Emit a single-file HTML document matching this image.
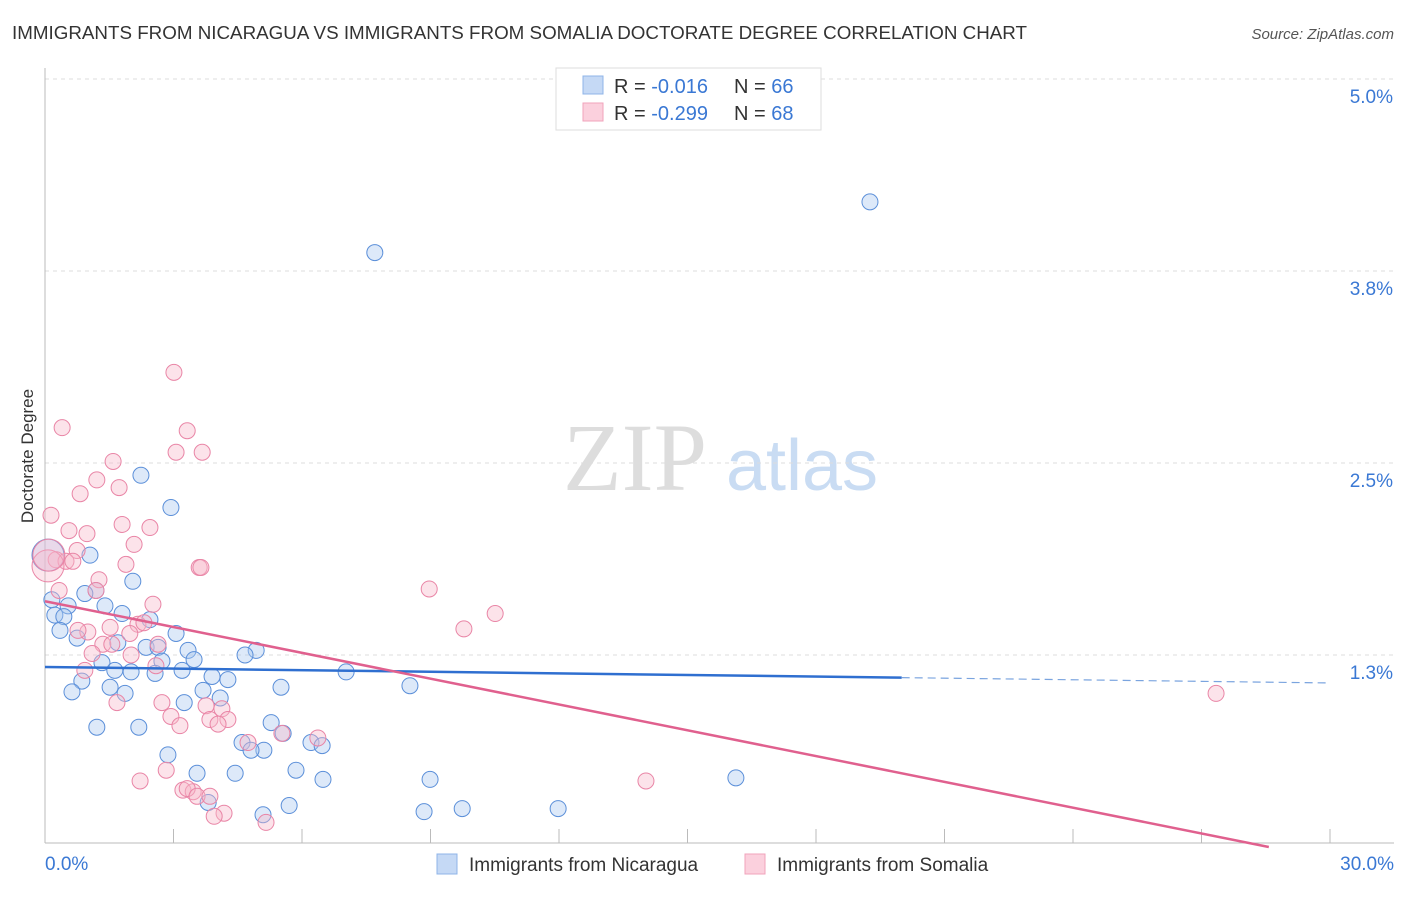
<!DOCTYPE html>
<html><head><meta charset="utf-8"><style>
body{margin:0;background:#fff;font-family:"Liberation Sans",sans-serif;}
</style></head><body>
<svg id="chart" width="1406" height="892" xmlns="http://www.w3.org/2000/svg" font-family="Liberation Sans, sans-serif">
<text x="12" y="39" font-size="18" fill="#333" textLength="1015" lengthAdjust="spacingAndGlyphs">IMMIGRANTS FROM NICARAGUA VS IMMIGRANTS FROM SOMALIA DOCTORATE DEGREE CORRELATION CHART</text>
<text x="1394" y="39" font-size="15" fill="#555" font-style="italic" text-anchor="end">Source: ZipAtlas.com</text>
<text transform="translate(33,456) rotate(-90)" font-size="17" fill="#333" text-anchor="middle">Doctorate Degree</text>
<g>
<text x="635" y="490" font-size="96" font-family="Liberation Serif, serif" fill="#ddd" text-anchor="middle">ZIP</text>
<text x="802" y="490" font-size="72" fill="#c9dcf3" text-anchor="middle">atlas</text>
</g>
<g id="grid"></g><g id="axes"></g><g id="pts"></g><g id="lines"></g>
<g>
<rect x="556" y="68" width="265" height="62" fill="#fff" stroke="#ddd"/>
<rect x="583" y="76" width="20" height="18" fill="#c5d9f5" stroke="#8fb4e8"/>
<rect x="583" y="103" width="20" height="18" fill="#fbd0dd" stroke="#f0a3bb"/>
<text x="614" y="93" font-size="20" fill="#333">R = <tspan fill="#3a78d4">-0.016</tspan></text>
<text x="734" y="93" font-size="20" fill="#333">N = <tspan fill="#3a78d4">66</tspan></text>
<text x="614" y="120" font-size="20" fill="#333">R = <tspan fill="#3a78d4">-0.299</tspan></text>
<text x="734" y="120" font-size="20" fill="#333">N = <tspan fill="#3a78d4">68</tspan></text>
</g>
<g>
<rect x="437" y="854" width="20" height="20" fill="#c5d9f5" stroke="#8fb4e8"/>
<text x="469" y="871" font-size="19" fill="#333">Immigrants from Nicaragua</text>
<rect x="745" y="854" width="20" height="20" fill="#fbd0dd" stroke="#f0a3bb"/>
<text x="777" y="871" font-size="19" fill="#333">Immigrants from Somalia</text>
</g>
</svg>
<script>
const yTicks=[1.25,2.5,3.75,5.0];
const yTickLabels=["1.3%","2.5%","3.8%","5.0%"];
const xTicks=[0,3,6,9,12,15,18,21,24,27,30];
const nicX=[19.26,7.70,2.24,2.94,1.05,0.07,2.05,1.19,0.93,0.16,0.54,1.40,0.23,0.44,1.80,2.45,0.35,3.06,0.75,1.70,2.36,2.64,3.34,4.93,4.67,3.48,1.33,2.73,1.63,2.01,3.20,2.57,7.03,3.90,4.27,0.86,8.52,1.52,5.51,3.69,0.63,1.87,4.09,3.25,5.28,1.21,2.19,5.56,6.21,4.60,6.47,5.11,4.81,2.87,3.55,4.44,5.86,6.49,8.99,16.13,3.81,5.70,5.09,8.85,9.74,11.98];
const nicY=[4.20,3.87,2.42,2.21,1.90,1.90,1.73,1.67,1.65,1.61,1.57,1.57,1.51,1.50,1.52,1.48,1.41,1.39,1.36,1.33,1.30,1.30,1.28,1.28,1.25,1.22,1.20,1.21,1.15,1.14,1.15,1.13,1.14,1.11,1.09,1.08,1.05,1.04,1.04,1.02,1.01,1.00,0.97,0.94,0.81,0.78,0.78,0.74,0.68,0.68,0.66,0.63,0.63,0.60,0.48,0.48,0.50,0.44,0.44,0.45,0.29,0.27,0.21,0.23,0.25,0.25];
const somX=[3.01,0.40,3.32,3.67,3.06,1.59,1.21,0.82,1.73,0.14,1.80,0.56,0.98,2.45,2.08,0.75,0.26,0.49,0.65,0.07,3.60,3.64,1.89,0.33,1.26,8.97,1.19,2.52,10.51,2.17,2.31,9.78,1.52,1.00,0.77,1.98,2.64,1.35,1.56,1.10,2.01,2.59,0.93,27.34,1.68,2.73,3.76,4.13,2.94,3.85,4.27,4.04,3.15,5.53,6.37,4.74,2.22,14.03,2.83,3.22,3.46,3.32,3.55,3.85,4.18,3.95,5.16,0.09];
const somY=[3.09,2.73,2.71,2.57,2.57,2.51,2.39,2.30,2.34,2.16,2.10,2.06,2.04,2.08,1.97,1.93,1.87,1.86,1.86,1.83,1.82,1.82,1.84,1.67,1.74,1.68,1.67,1.58,1.52,1.45,1.46,1.42,1.43,1.40,1.41,1.39,1.32,1.32,1.32,1.26,1.25,1.18,1.15,1.00,0.94,0.94,0.92,0.90,0.85,0.83,0.83,0.80,0.79,0.74,0.71,0.68,0.43,0.43,0.50,0.37,0.36,0.38,0.33,0.33,0.22,0.20,0.16,1.90];
const nicTrend=[1.172,1.068];
const somTrend=[1.60,-0.08];
const NS="http://www.w3.org/2000/svg";
const X=v=>45+v*(1285/30), Y=v=>847-v*153.6;
function mk(tag,attrs,parent){const e=document.createElementNS(NS,tag);for(const k in attrs)e.setAttribute(k,attrs[k]);document.getElementById(parent).appendChild(e);return e;}
yTicks.forEach((t,i)=>{
 const g=mk('line',{x1:45,x2:1394,y1:Y(t),y2:Y(t),stroke:'#ddd','stroke-dasharray':'4,4'},'grid');
 
 
 const l=mk('text',{x:1393,y:Y(t)+24,'font-size':19,fill:'#3a78d4','text-anchor':'end'},'axes');
 l.textContent=yTickLabels[i];
 
 
});
const a1=mk('line',{x1:45,x2:45,y1:68,y2:843,stroke:'#bbb'},'axes');


const a2=mk('line',{x1:45,x2:1394,y1:843,y2:843,stroke:'#bbb'},'axes');


xTicks.forEach(t=>{const e=mk('line',{x1:X(t),x2:X(t),y1:829,y2:843,stroke:'#bbb'},'axes');
 
 });
const xl0=mk('text',{x:45,y:870,'font-size':19,fill:'#3a78d4'},'axes');xl0.textContent=xTicks[0].toFixed(1)+'%';


const xl1=mk('text',{x:1394,y:870,'font-size':19,fill:'#3a78d4','text-anchor':'end'},'axes');xl1.textContent=xTicks[xTicks.length-1].toFixed(1)+'%';


function pts(xs,ys,fill,stroke,name){xs.forEach((x,i)=>{const big=(x<0.1&&ys[i]>1.8);
 const c=mk('circle',{cx:X(x),cy:Y(ys[i]),r:big?16:8,fill:fill,'fill-opacity':big?0.35:0.4,stroke:stroke,'stroke-width':1},'pts');
 
 });}
pts(nicX,nicY,'#aac8f0','#5b8fd9','nicaragua-point');
pts(somX,somY,'#f8b8cb','#e985a6','somalia-point');
const b1=mk('line',{x1:X(0),y1:Y(nicTrend[0]),x2:X(20),y2:Y(nicTrend[0]+(nicTrend[1]-nicTrend[0])*20/30),stroke:'#2f6fd0','stroke-width':2.5},'lines');


const b2=mk('line',{x1:X(20),y1:Y(nicTrend[0]+(nicTrend[1]-nicTrend[0])*20/30),x2:X(30),y2:Y(nicTrend[1]),stroke:'#7aa4df','stroke-width':1.2,'stroke-dasharray':'8,5'},'lines');


const tEnd=(somTrend[0])/(somTrend[0]-somTrend[1])*30;
const p1=mk('line',{x1:X(0),y1:Y(somTrend[0]),x2:X(tEnd),y2:Y(0),stroke:'#e0608e','stroke-width':2.5},'lines');


</script>
</body></html>
